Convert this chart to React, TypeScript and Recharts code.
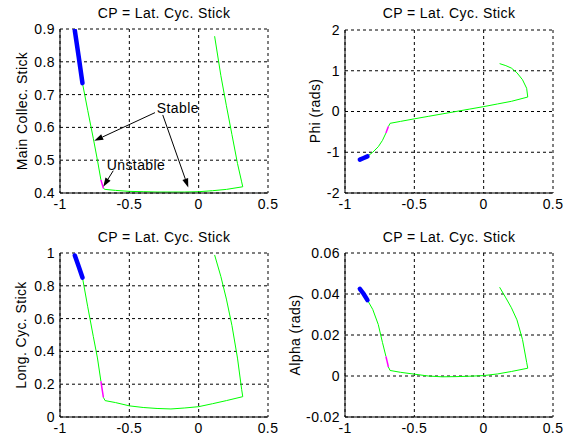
import { LineChart, Line, XAxis, YAxis, CartesianGrid, ReferenceLine, ReferenceDot } from 'recharts'

// lateral cyclic stick (continuation parameter) along each branch segment
const cpBlue = [-0.893, -0.865, -0.838]
const cpStableA = [-0.838, -0.8, -0.76, -0.73, -0.705]
const cpUnstable = [-0.705, -0.696, -0.687]
const cpStableB = [-0.687, -0.675, -0.6, -0.5, -0.4, -0.3, -0.2, -0.1, 0, 0.1, 0.2, 0.318, 0.31, 0.28, 0.24, 0.2, 0.16, 0.115]

const collectiveBlue = [0.895, 0.815, 0.735]
const collectiveStableA = [0.735, 0.652, 0.567, 0.5, 0.44]
const collectiveUnstable = [0.44, 0.427, 0.414]
const collectiveStableB = [0.414, 0.411, 0.408, 0.405, 0.404, 0.403, 0.403, 0.403, 0.404, 0.407, 0.411, 0.419, 0.434, 0.49, 0.578, 0.666, 0.758, 0.878]

const phiBlue = [-1.18, -1.14, -1.1]
const phiStableA = [-1.1, -1.0, -0.864, -0.71, -0.53]
const phiUnstable = [-0.53, -0.45, -0.37]
const phiStableB = [-0.37, -0.29, -0.243, -0.18, -0.12, -0.06, 0.0, 0.06, 0.12, 0.185, 0.25, 0.355, 0.57, 0.78, 0.95, 1.065, 1.125, 1.175]

const longCycBlue = [0.985, 0.917, 0.85]
const longCycStableA = [0.85, 0.672, 0.492, 0.36, 0.218]
const longCycUnstable = [0.218, 0.168, 0.12]
const longCycStableB = [0.12, 0.1, 0.088, 0.068, 0.058, 0.052, 0.049, 0.055, 0.063, 0.081, 0.1, 0.124, 0.168, 0.359, 0.558, 0.719, 0.857, 0.988]

const alphaBlue = [0.0425, 0.04, 0.037]
const alphaStableA = [0.037, 0.0325, 0.0251, 0.0164, 0.0096]
const alphaUnstable = [0.0096, 0.007, 0.0044]
const alphaStableB = [0.0044, 0.0027, 0.0018, 0.0009, 0.0, -0.0004, -0.0003, -0.0001, 0.0002, 0.001, 0.0022, 0.0038, 0.0067, 0.0178, 0.0274, 0.0333, 0.0381, 0.0433]

const xTicks = [-1, -0.5, 0, 0.5]
const collectiveTicks = [0.4, 0.5, 0.6, 0.7, 0.8, 0.9]
const phiTicks = [-2, -1, 0, 1, 2]
const longCycTicks = [0, 0.2, 0.4, 0.6, 0.8, 1]
const alphaTicks = [-0.02, 0, 0.02, 0.04, 0.06]

const FONT = "'Liberation Sans', Arial, sans-serif"
const tickStyle = { fill: '#000', fontSize: 14, fontFamily: FONT, letterSpacing: 0.4 }

type Pt = { x: number; y: number }
const zip = (xs: number[], ys: number[]): Pt[] => xs.map((x, i) => ({ x, y: ys[i] }))

type Segments = [number[], number[], number[], number[]]

interface PanelProps {
  left: number
  top: number
  width: number
  height: number
  margin: { top: number; right: number; bottom: number; left: number }
  yWidth: number
  xHeight: number
  yTicks: number[]
  ys: Segments
  children?: React.ReactNode
}

function Panel({ left, top, width, height, margin, yWidth, xHeight, yTicks, ys, children }: PanelProps) {
  const [blue, stableA, unstable, stableB] = ys
  const domain: [number, number] = [yTicks[0], yTicks[yTicks.length - 1]]
  return (
    <div style={{ position: 'absolute', left, top }}>
      <LineChart width={width} height={height} margin={margin}>
        <CartesianGrid stroke="#000" strokeDasharray="3 3" />
        <XAxis
          type="number"
          dataKey="x"
          domain={[-1, 0.5]}
          ticks={xTicks}
          allowDataOverflow
          height={xHeight}
          tickSize={0}
          tickMargin={6}
          tick={tickStyle}
          axisLine={{ stroke: '#000' }}
          tickLine={false}
          interval={0}
        />
        <YAxis
          type="number"
          dataKey="y"
          domain={domain}
          ticks={yTicks}
          allowDataOverflow
          width={yWidth}
          tickSize={0}
          tickMargin={5}
          tick={tickStyle}
          axisLine={{ stroke: '#000' }}
          tickLine={false}
          interval={0}
        />
        <Line data={zip(cpStableA, stableA)} dataKey="y" stroke="#00ff00" strokeWidth={1} dot={false} isAnimationActive={false} />
        <Line data={zip(cpStableB, stableB)} dataKey="y" stroke="#00ff00" strokeWidth={1} dot={false} isAnimationActive={false} />
        <Line data={zip(cpUnstable, unstable)} dataKey="y" stroke="#ff00ff" strokeWidth={1.5} dot={false} isAnimationActive={false} />
        <Line
          data={zip(cpBlue, blue)}
          dataKey="y"
          stroke="#0000ff"
          strokeWidth={4.5}
          strokeLinecap="round"
          dot={false}
          isAnimationActive={false}
        />
        {children}
      </LineChart>
    </div>
  )
}

// arrow from the label towards the branch, head at the second point
const Arrow = (p: any) => {
  const { x1, y1, x2, y2 } = p
  const a = Math.atan2(y2 - y1, x2 - x1)
  const len = 9
  const hw = 3
  const bx = x2 - len * Math.cos(a)
  const by = y2 - len * Math.sin(a)
  const pts = [
    [x2, y2],
    [bx + hw * Math.sin(a), by - hw * Math.cos(a)],
    [bx - hw * Math.sin(a), by + hw * Math.cos(a)],
  ]
  return (
    <g>
      <line x1={x1} y1={y1} x2={bx} y2={by} stroke="#000" strokeWidth={1} />
      <polygon points={pts.map((q) => q.join(',')).join(' ')} fill="#000" />
    </g>
  )
}

const noteText = (text: string) => (p: any) => (
  <text x={p.cx} y={p.cy} textAnchor="middle" fontSize={14} fontFamily={FONT} letterSpacing={0.4} fill="#000">
    {text}
  </text>
)

const titles = [
  { x: 164, y: 18, text: 'CP = Lat. Cyc. Stick' },
  { x: 449, y: 18, text: 'CP = Lat. Cyc. Stick' },
  { x: 164, y: 242, text: 'CP = Lat. Cyc. Stick' },
  { x: 449, y: 242, text: 'CP = Lat. Cyc. Stick' },
]

const yLabels = [
  { x: 27, y: 111, text: 'Main Collec. Stick' },
  { x: 320, y: 111, text: 'Phi (rads)' },
  { x: 26, y: 335, text: 'Long. Cyc. Stick' },
  { x: 300, y: 335, text: 'Alpha (rads)' },
]

export default function App() {
  return (
    <div style={{ position: 'absolute', left: 0, top: 0, width: 565, height: 446, background: '#fff' }}>
      <Panel
        left={0}
        top={0}
        width={280}
        height={220}
        margin={{ top: 29, right: 12, bottom: 0, left: 0 }}
        yWidth={60}
        xHeight={27}
        yTicks={collectiveTicks}
        ys={[collectiveBlue, collectiveStableA, collectiveUnstable, collectiveStableB]}
      >
        <ReferenceLine segment={[{ x: -0.315, y: 0.645 }, { x: -0.753, y: 0.559 }]} shape={Arrow} ifOverflow="visible" />
        <ReferenceLine segment={[{ x: -0.259, y: 0.638 }, { x: -0.075, y: 0.417 }]} shape={Arrow} ifOverflow="visible" />
        <ReferenceLine segment={[{ x: -0.616, y: 0.468 }, { x: -0.688, y: 0.419 }]} shape={Arrow} ifOverflow="visible" />
        <ReferenceDot x={-0.15} y={0.644} r={1} shape={noteText('Stable')} ifOverflow="visible" />
        <ReferenceDot x={-0.452} y={0.47} r={1} shape={noteText('Unstable')} ifOverflow="visible" />
      </Panel>
      <Panel
        left={280}
        top={0}
        width={285}
        height={220}
        margin={{ top: 30, right: 12, bottom: 0, left: 0 }}
        yWidth={65}
        xHeight={27}
        yTicks={phiTicks}
        ys={[phiBlue, phiStableA, phiUnstable, phiStableB]}
      />
      <Panel
        left={0}
        top={220}
        width={280}
        height={226}
        margin={{ top: 33, right: 12, bottom: 0, left: 0 }}
        yWidth={60}
        xHeight={29}
        yTicks={longCycTicks}
        ys={[longCycBlue, longCycStableA, longCycUnstable, longCycStableB]}
      />
      <Panel
        left={280}
        top={220}
        width={285}
        height={226}
        margin={{ top: 33, right: 12, bottom: 0, left: 0 }}
        yWidth={65}
        xHeight={29}
        yTicks={alphaTicks}
        ys={[alphaBlue, alphaStableA, alphaUnstable, alphaStableB]}
      />
      <svg width={565} height={446} style={{ position: 'absolute', left: 0, top: 0, pointerEvents: 'none' }}>
        {titles.map((t, i) => (
          <text key={i} x={t.x} y={t.y} textAnchor="middle" fontSize={14} fontFamily={FONT} letterSpacing={0.4} fill="#000">
            {t.text}
          </text>
        ))}
        {yLabels.map((t, i) => (
          <text
            key={i}
            x={t.x}
            y={t.y}
            transform={`rotate(-90 ${t.x} ${t.y})`}
            textAnchor="middle"
            fontSize={14}
            fontFamily={FONT}
            letterSpacing={0.4}
            fill="#000"
          >
            {t.text}
          </text>
        ))}
      </svg>
    </div>
  )
}
